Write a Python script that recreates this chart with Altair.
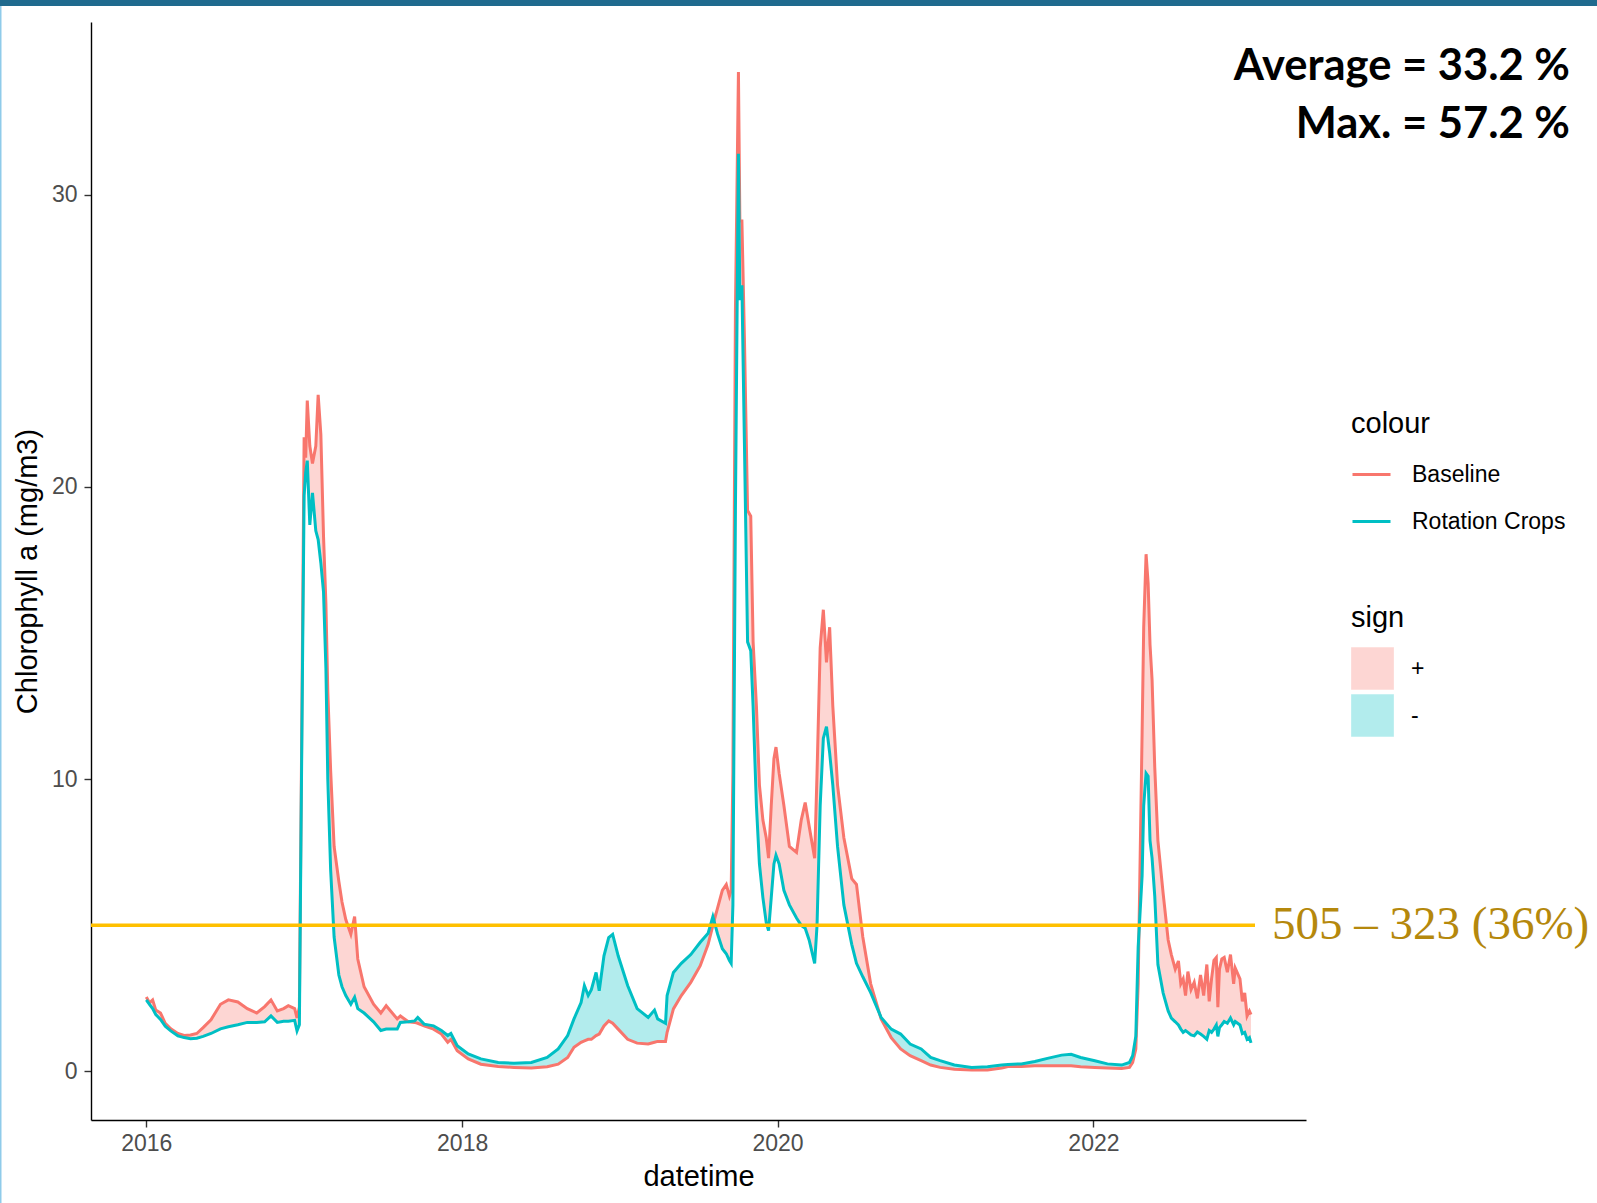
import altair as alt
import pandas as pd

# ---------------- data ----------------
years = [
    2016.00, 2016.02, 2016.04, 2016.06, 2016.09, 2016.12, 2016.155, 2016.20, 2016.24, 2016.28,
    2016.32, 2016.36, 2016.41, 2016.47, 2016.52, 2016.58, 2016.64, 2016.70, 2016.75, 2016.79,
    2016.83, 2016.87, 2016.90, 2016.94, 2016.955, 2016.97, 2016.98, 2016.99,
    2017.00, 2017.01, 2017.02, 2017.036, 2017.053, 2017.074, 2017.089, 2017.106, 2017.123, 2017.138,
    2017.15, 2017.168, 2017.19, 2017.22, 2017.24, 2017.264, 2017.296, 2017.32, 2017.34, 2017.38,
    2017.44, 2017.486, 2017.52, 2017.59, 2017.61, 2017.66, 2017.70, 2017.72, 2017.76, 2017.82,
    2017.87, 2017.91, 2017.93, 2017.97,
    2018.04, 2018.12, 2018.23, 2018.33, 2018.44, 2018.54, 2018.61, 2018.67, 2018.71, 2018.755,
    2018.776, 2018.80, 2018.82, 2018.85, 2018.87, 2018.90, 2018.93, 2018.955, 2018.99,
    2019.05, 2019.11, 2019.18, 2019.22, 2019.24, 2019.29, 2019.30, 2019.34, 2019.39, 2019.45,
    2019.51, 2019.56, 2019.59, 2019.62, 2019.65, 2019.675, 2019.695, 2019.706, 2019.717, 2019.733,
    2019.752, 2019.761, 2019.774, 2019.79, 2019.81, 2019.83, 2019.845, 2019.866, 2019.885, 2019.907,
    2019.928, 2019.943, 2019.96, 2019.977, 2019.99,
    2020.01, 2020.04, 2020.075, 2020.12, 2020.15, 2020.175, 2020.20, 2020.235, 2020.25, 2020.27,
    2020.29, 2020.31, 2020.33, 2020.35, 2020.38, 2020.42, 2020.47, 2020.50, 2020.54, 2020.59,
    2020.656, 2020.72, 2020.78, 2020.84, 2020.91, 2020.97,
    2021.03, 2021.12, 2021.23, 2021.33, 2021.42, 2021.46, 2021.545, 2021.63, 2021.71, 2021.80,
    2021.86, 2021.92,
    2022.01, 2022.09, 2022.18, 2022.23, 2022.25, 2022.27, 2022.285, 2022.31, 2022.32, 2022.335,
    2022.348, 2022.36, 2022.373, 2022.39, 2022.41, 2022.443, 2022.475, 2022.495, 2022.52, 2022.54,
    2022.555, 2022.57, 2022.585, 2022.60, 2022.62, 2022.64, 2022.66, 2022.68, 2022.70, 2022.72,
    2022.735, 2022.75, 2022.765, 2022.78, 2022.79, 2022.80, 2022.815, 2022.83, 2022.85, 2022.87,
    2022.89, 2022.90, 2022.93, 2022.945, 2022.96, 2022.975, 2022.99, 2023.00,
]

baseline = [
    2.55, 2.35, 2.45, 2.10, 2.00, 1.65, 1.46, 1.30, 1.23, 1.25,
    1.30, 1.50, 1.77, 2.30, 2.45, 2.38, 2.15, 2.00, 2.22, 2.45,
    2.07, 2.15, 2.25, 2.15, 1.83, 2.20, 8.40, 15.0,
    21.7, 21.0, 22.96, 21.4, 20.8, 21.4, 23.15, 21.8, 18.3, 16.0,
    13.0, 10.3, 7.7, 6.5, 5.8, 5.2, 4.7, 5.3, 3.85, 2.9,
    2.3, 2.0, 2.25, 1.8, 1.9, 1.7, 1.68, 1.65, 1.56, 1.45,
    1.28, 1.0, 1.1, 0.71,
    0.43, 0.25, 0.17, 0.14, 0.12, 0.16, 0.25, 0.48, 0.83, 1.0,
    1.05, 1.1, 1.1, 1.23, 1.28, 1.56, 1.73, 1.65, 1.45,
    1.1, 0.97, 0.94, 1.0, 1.03, 1.03, 1.34, 2.14, 2.6, 3.05,
    3.62, 4.35, 5.0, 5.6, 6.2, 6.4, 6.0, 6.2, 10.2, 26.0,
    34.2, 29.1, 29.1, 25.1, 19.2, 19.0, 14.7, 12.5, 9.8, 8.6,
    8.0, 7.3, 9.1, 10.7, 11.1,
    10.2, 9.1, 7.7, 7.5, 8.6, 9.2, 8.4, 7.3, 10.2, 14.5,
    15.8, 14.0, 15.2, 12.5, 9.8, 8.0, 6.6, 6.4, 4.6, 3.0,
    1.8, 1.16, 0.77, 0.54, 0.37, 0.22,
    0.14, 0.08, 0.05, 0.05, 0.12, 0.17, 0.17, 0.2, 0.2, 0.2,
    0.2, 0.16,
    0.14, 0.12, 0.1, 0.14, 0.31, 0.77, 3.0, 11.6, 15.2, 17.7,
    16.7, 14.6, 13.4, 10.4, 7.9, 6.1, 4.5, 4.0, 3.5, 3.78,
    3.0, 3.17, 2.6, 3.42, 2.8, 3.05, 2.5, 3.3, 2.6, 3.66,
    2.4, 3.17, 3.8, 3.9, 2.2, 3.5, 3.85, 3.9, 3.4, 4.0,
    3.0, 3.54, 3.17, 2.4, 2.69, 1.9, 2.07, 1.95,
]

rotation = [
    2.45, 2.30, 2.15, 1.95, 1.78, 1.55, 1.39, 1.22, 1.16, 1.12,
    1.14, 1.20, 1.30, 1.46, 1.53, 1.60, 1.68, 1.68, 1.70, 1.90,
    1.68, 1.72, 1.72, 1.75, 1.39, 1.60, 8.00, 14.0,
    19.7, 20.5, 20.9, 18.7, 19.8, 18.5, 18.2, 17.4, 16.4, 13.8,
    10.0, 6.9, 4.6, 3.3, 2.9, 2.6, 2.3, 2.54, 2.15, 2.0,
    1.7, 1.4, 1.45, 1.45, 1.68, 1.7, 1.73, 1.85, 1.62, 1.56,
    1.4, 1.23, 1.3, 0.88,
    0.6, 0.43, 0.31, 0.28, 0.31, 0.48, 0.77, 1.23, 1.8, 2.36,
    2.94, 2.6, 2.8, 3.39, 2.76, 3.96, 4.58, 4.69, 3.96,
    2.94, 2.15, 1.85, 2.1, 1.8, 1.65, 2.6, 3.39, 3.7, 4.0,
    4.42, 4.73, 5.3, 4.7, 4.2, 4.03, 3.8, 3.7, 5.7, 19.2,
    31.4, 26.4, 26.9, 21.5, 14.7, 14.4, 12.5, 9.1, 7.1, 5.95,
    5.1, 4.82, 5.95, 7.1, 7.4,
    7.1, 6.2, 5.7, 5.25, 5.0, 4.9, 4.5, 3.7, 5.0, 9.1,
    11.4, 11.8, 10.9, 9.8, 7.7, 5.7, 4.35, 3.7, 3.24, 2.7,
    1.85, 1.45, 1.28, 0.94, 0.77, 0.48,
    0.37, 0.22, 0.14, 0.16, 0.22, 0.24, 0.26, 0.34, 0.45, 0.56,
    0.59, 0.48,
    0.37, 0.26, 0.22, 0.31, 0.54, 1.21, 4.26, 6.7, 9.1, 10.2,
    10.1, 7.9, 7.3, 6.0, 3.66, 2.69, 2.07, 1.83, 1.7, 1.59,
    1.45, 1.34, 1.4, 1.34, 1.25, 1.22, 1.35, 1.28, 1.2, 1.1,
    1.4, 1.34, 1.45, 1.59, 1.2, 1.5, 1.6, 1.71, 1.65, 1.83,
    1.6, 1.71, 1.59, 1.3, 1.34, 1.1, 1.16, 0.98,
]

series_names = ["Baseline", "Rotation Crops"]
series_colors = ["#F8766D", "#00BFC4"]
sign_names = ["+", "-"]
threshold = 5
threshold_label = "505 – 323 (36%)"
stat_lines = ["Average = 33.2 %", "Max. = 57.2 %"]
x_tick_years = [2016, 2018, 2020, 2022]
y_tick_values = [0, 10, 20, 30]

assert len(years) == len(baseline) == len(rotation)

# ---------------- tables for the library ----------------
start = pd.Timestamp("2016-01-01")
dates = [(start + pd.Timedelta(days=(y - 2016) * 365.25)).round("h") for y in years]
n = len(dates)

line_df = pd.DataFrame({
    "date": dates * 2,
    "value": baseline + rotation,
    "series": [series_names[0]] * n + [series_names[1]] * n,
})

hi = [max(b, r) for b, r in zip(baseline, rotation)]
area_df = pd.DataFrame({
    "date": dates * 2,
    "lo": rotation + baseline,
    "hi": hi + hi,
    "sign": [sign_names[0]] * n + [sign_names[1]] * n,
})

# ---------------- scales / axes ----------------
W, H = 1215, 1098
PAD_L, PAD_T = 91, 22

xscale = alt.Scale(domain=[alt.DateTime(year=2015, month=8, date=26),
                           alt.DateTime(year=2023, month=5, date=8)], nice=False)
yscale = alt.Scale(domain=[-1.66, 35.91], nice=False, zero=False)

xaxis = alt.Axis(values=[alt.DateTime(year=y, month=1, date=1) for y in x_tick_years],
                 format="%Y", labelFlush=False, labelOverlap=False, titlePadding=7)
yaxis = alt.Axis(values=y_tick_values, labelFlush=False, titlePadding=9, labelPadding=7)

X = alt.X("date:T", scale=xscale, axis=xaxis, title="datetime")

colour_legend = alt.Legend(title="colour", orient="none", legendX=1260, legendY=388,
                           symbolType="stroke", symbolSize=1444, symbolStrokeWidth=2.8,
                           rowPadding=14, titlePadding=15, labelOffset=20, padding=0)
sign_legend = alt.Legend(title="sign", orient="none", legendX=1260, legendY=582,
                         symbolType="square", symbolSize=1823, symbolStrokeWidth=0,
                         symbolOpacity=0.3, rowPadding=4, titlePadding=14,
                         labelOffset=17, padding=0)

areas = alt.Chart(area_df).mark_area(opacity=0.3).encode(
    x=X,
    y=alt.Y("lo:Q", scale=yscale, axis=yaxis, title="Chlorophyll a (mg/m3)"),
    y2="hi:Q",
    fill=alt.Fill("sign:N", scale=alt.Scale(domain=sign_names, range=series_colors),
                  legend=sign_legend),
)

lines = alt.Chart(line_df).mark_line(strokeWidth=3).encode(
    x=X,
    y=alt.Y("value:Q", scale=yscale, axis=yaxis, title="Chlorophyll a (mg/m3)"),
    stroke=alt.Stroke("series:N", scale=alt.Scale(domain=series_names, range=series_colors),
                      legend=colour_legend),
)

one = pd.DataFrame({"k": [0]})

hline = alt.Chart(one).mark_rule(color="#FFC000", strokeWidth=3.5).encode(
    x=alt.value(0), x2=alt.value(1164), y=alt.datum(threshold),
)

thr_text = alt.Chart(pd.DataFrame({"label": [threshold_label]})).mark_text(
    align="left", baseline="middle", font="Liberation Serif", fontSize=47, color="#B5880C",
).encode(x=alt.value(1181), y=alt.datum(threshold), text="label:N")

avg_text = alt.Chart(pd.DataFrame({"label": [stat_lines[0]]})).mark_text(
    align="right", baseline="alphabetic", font="Lato", fontWeight="bold", fontSize=43.5, color="black",
).encode(x=alt.value(1479), y=alt.value(58), text="label:N")

max_text = alt.Chart(pd.DataFrame({"label": [stat_lines[1]]})).mark_text(
    align="right", baseline="alphabetic", font="Lato", fontWeight="bold", fontSize=43.5, color="black",
).encode(x=alt.value(1479), y=alt.value(116), text="label:N")

top_bar = alt.Chart(one).mark_rect(color="#1F6A8E").encode(
    x=alt.value(-PAD_L), x2=alt.value(1597 - PAD_L), y=alt.value(-PAD_T), y2=alt.value(-PAD_T + 6),
)
left_bar = alt.Chart(one).mark_rect(color="#8FCBEA").encode(
    x=alt.value(-PAD_L), x2=alt.value(-PAD_L + 1.5), y=alt.value(-PAD_T + 6), y2=alt.value(1203 - PAD_T),
)

chart = alt.layer(areas, lines, hline, thr_text, avg_text, max_text, top_bar, left_bar).properties(
    width=W, height=H,
    autosize=alt.AutoSizeParams(type="none"),
    padding={"left": PAD_L, "top": PAD_T, "right": 1597 - PAD_L - W, "bottom": 1203 - PAD_T - H},
    background="white",
).configure(font="Liberation Sans").configure_view(stroke=None).configure_axis(
    grid=False, domainColor="black", domainWidth=1.4, tickColor="#333333", tickWidth=1.4,
    tickSize=7, labelFont="Liberation Sans", labelFontSize=23, labelColor="#4D4D4D",
    labelPadding=5, titleFont="Liberation Sans", titleFontSize=29, titleFontWeight="normal",
    titleColor="black",
).configure_legend(
    labelFont="Liberation Sans", labelFontSize=23, labelColor="black",
    titleFont="Liberation Sans", titleFontSize=29, titleFontWeight="normal", titleColor="black",
)

chart.save("out.html", embed_options={"renderer": "svg", "actions": False})
